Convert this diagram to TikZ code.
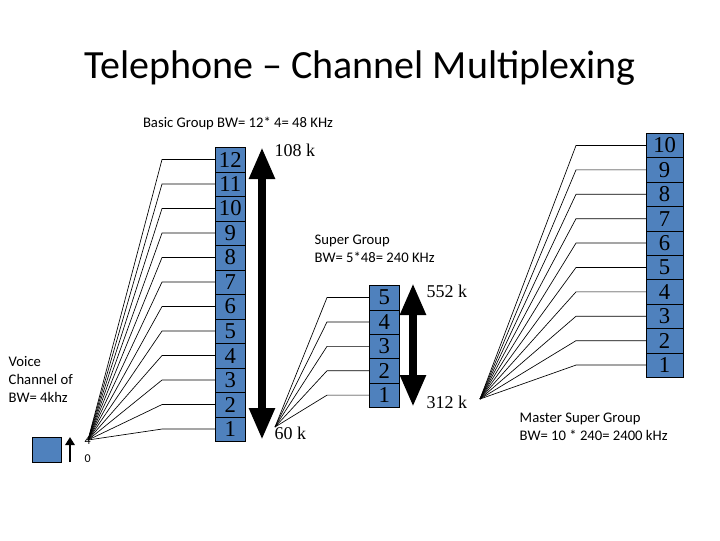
\documentclass[tikz,border=0pt]{standalone}
\usepackage{fontspec}
\usetikzlibrary{arrows.meta}
\setmainfont{Liberation Serif}
\newfontfamily\calfont{Carlito}
\definecolor{cellblue}{RGB}{79,129,189}
\begin{document}
\begin{tikzpicture}[x=0.75pt,y=-0.75pt,
  cell/.style={draw=black,fill=cellblue,minimum width=#1,minimum height=18.3pt,inner sep=0pt,font=\fontsize{17}{17}\selectfont,anchor=north west},
  lbl/.style={font=\calfont\fontsize{11}{13.5}\selectfont,align=left,anchor=west},
  kl/.style={font=\fontsize{13.5}{14}\selectfont,anchor=west},
  fanl/.style={draw=black,line width=0.5pt},
  bigarr/.style={line width=6pt,{Triangle[width=18pt,length=24pt]}-{Triangle[width=18pt,length=24pt]}}]
\useasboundingbox (0,0) rectangle (720,540);
\node[font=\calfont\fontsize{30}{30}\selectfont] (title) at (360,68) {Telephone – Channel Multiplexing};
\node[lbl,anchor=center] (bg) at (238,123) {Basic Group BW= 12* 4= 48 KHz};
\node[lbl] (vc) at (4,379) {Voice\\Channel of\\BW= 4khz};
\node[lbl] (sg) at (310,249) {Super Group\\BW= 5*48= 240 KHz};
\node[lbl] (msg) at (515,427) {Master Super Group\\BW= 10 * 240= 2400 kHz};
% voice channel
\node[cell=22pt,minimum height=19pt] (vbox) at (32,437) {};
\coordinate (va) at (70,462); \coordinate (vb) at (70,437);
\draw[line width=2pt,-{Triangle[width=7pt,length=6pt]}] (va) -- (vb);
\node[font=\calfont\fontsize{9}{9}\selectfont,anchor=west] (v4) at (80,441) {4};
\node[font=\calfont\fontsize{9}{9}\selectfont,anchor=west] (v0) at (80,459) {0};
% basic group
\coordinate (fanA) at (88,440);
\foreach \i in {1,...,12}{
  \node[cell=22.5pt,minimum height=18.4pt] (b\i) at (215,{147+(12-\i)*24.5}) {\i};
  \coordinate (eb\i) at (162,0);
  \draw[fanl] (fanA) -- (eb\i |- b\i.west) -- (b\i.west);
}
\coordinate (a1) at (262,147); \coordinate (a2) at (262,440);
\draw[bigarr] (a1) -- (a2);
\node[kl] (k108) at (270,150) {108 k};
\node[kl] (k60) at (270,433) {60 k};
% super group
\coordinate (fanB) at (275,427);
\foreach \i in {1,...,5}{
  \node[cell=22.5pt,minimum height=18.4pt] (s\i) at (369,{285+(5-\i)*24.4}) {\i};
  \coordinate (es\i) at (327,0);
  \draw[fanl] (fanB) -- (es\i |- s\i.west) -- (s\i.west);
}
\coordinate (c1) at (413,283); \coordinate (c2) at (413,407);
\draw[bigarr] (c1) -- (c2);
\node[kl] (k552) at (422,291) {552 k};
\node[kl] (k312) at (422,402) {312 k};
% master group
\coordinate (fanC) at (480,399);
\foreach \i in {1,...,10}{
  \node[cell=27.5pt,minimum height=18.3pt] (m\i) at (646,{133+(10-\i)*24.4}) {\i};
  \coordinate (em\i) at (576,0);
  \draw[fanl] (fanC) -- (em\i |- m\i.west) -- (m\i.west);
}
\end{tikzpicture}
\end{document}
